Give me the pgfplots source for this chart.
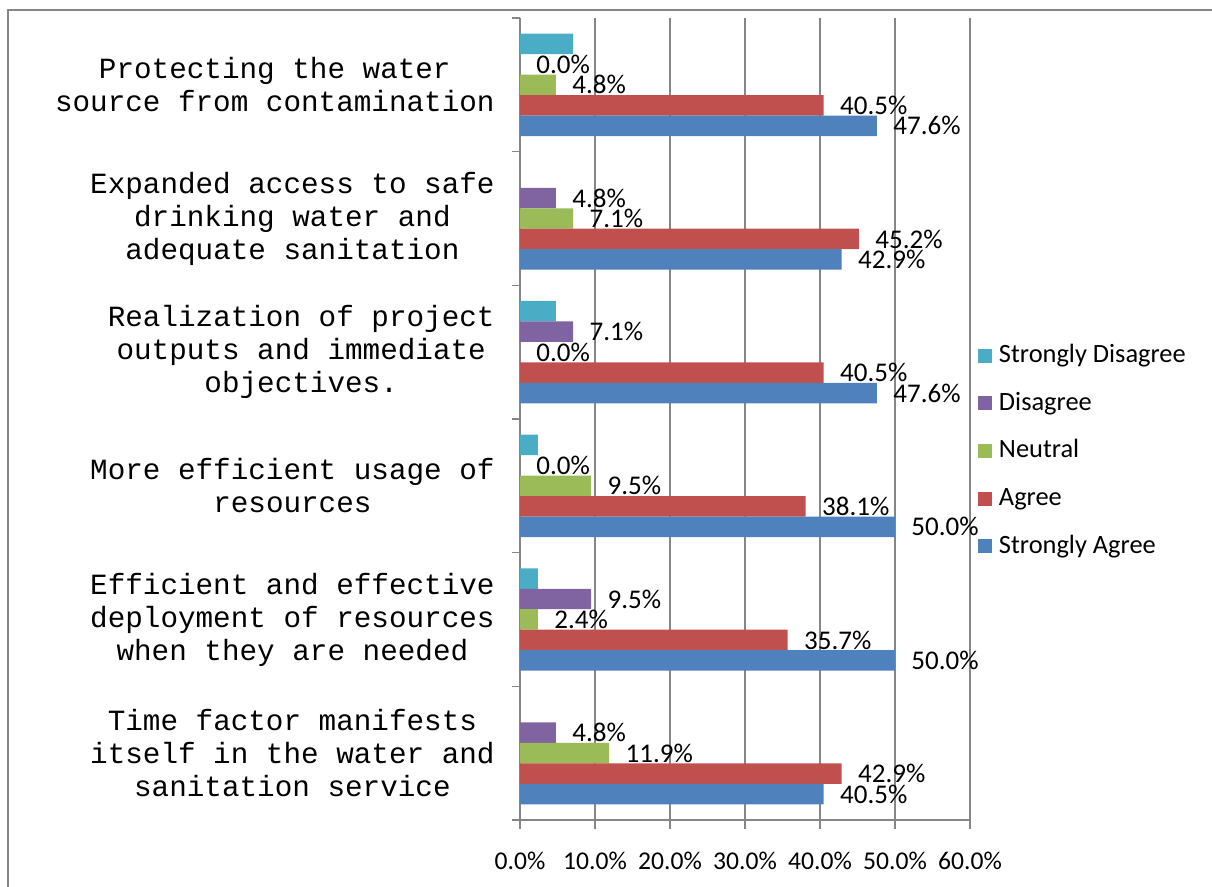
\documentclass[border=0pt]{standalone}
\usepackage{fontspec}
\setmainfont{Carlito}
\newfontfamily\cmono{Liberation Mono}
\usepackage{pgfplots}
\pgfplotsset{compat=1.18}
\definecolor{cSD}{HTML}{4BACC6}
\definecolor{cD}{HTML}{8064A2}
\definecolor{cN}{HTML}{9BBB59}
\definecolor{cA}{HTML}{C0504D}
\definecolor{cSA}{HTML}{4F81BD}
\definecolor{axgray}{RGB}{134,134,134}
\newcommand\lblfont{\fontsize{13.5}{15}\selectfont}
\newcommand\legfont{\fontsize{13.2}{15}\selectfont}
\newcommand\tickfont{\fontsize{12.8}{15}\selectfont}
\newcommand\ylabfont{\cmono\fontsize{14.65}{16.5}\selectfont}
\begin{document}
\begin{tikzpicture}
\draw[axgray, line width=0.75pt] (4pt,0pt) -- (4pt,438.5pt) -- (606pt,438.5pt);
\begin{axis}[
  at={(260pt,33.5pt)}, anchor=south west,
  scale only axis, width=225pt, height=401pt,
  xbar, bar width=0.1533,
  xmin=0, xmax=60, ymin=-0.5, ymax=5.5,
  axis x line*=bottom, axis y line*=left,
  axis line style={axgray, line width=0.75pt},
  xtick={0,10,...,60},
  xticklabel={\pgfmathprintnumber[fixed,fixed zerofill,precision=1]{\tick}\%},
  xmajorgrids, grid style={axgray, line width=0.6pt},
  tick align=outside, major tick length=4.5pt, minor tick length=4pt,
  tick style={axgray, line width=0.75pt},
  ytick={0,...,5},
  every major y tick/.append style={draw=none},
  minor ytick={-0.5,0.5,...,5.5},
  yticklabels={
    {Time factor manifests\\itself in the water and\\sanitation service},
    {Efficient and effective\\deployment of resources\\when they are needed},
    {More efficient usage of\\resources},
    {Realization of project\\outputs and immediate\\objectives.},
    {Expanded access to safe\\drinking water and\\adequate sanitation},
    {Protecting the water\\source from contamination}},
  yticklabel style={font=\ylabfont, align=center, inner sep=0pt, xshift=-8pt},
  xticklabel style={font=\tickfont, inner sep=0pt, yshift=-11.5pt},
  /pgf/number format/assume math mode=true,
  clip=false,
  legend style={at={(1,1)}, anchor=north west, xshift=4pt, yshift=-163.35pt,
    draw=none, fill=none, inner sep=0pt, outer sep=0pt,
    row sep=11.8pt, column sep=3.5pt, font=\legfont,
    nodes={inner sep=0pt, text height=9pt, text depth=3pt},
    cells={anchor=base west}},
  legend image code/.code={\fill[#1] (0pt,0pt) rectangle (7pt,7pt);},
  lbl/.style={nodes near coords={\pgfmathprintnumber[fixed,fixed zerofill,precision=1]{\pgfplotspointmeta}\%},
    point meta=x,
    every node near coord/.append style={font=\lblfont, anchor=west, inner sep=0pt, xshift=8pt, text=black}},
]
\addplot[xbar, fill=cSD, draw=none, bar shift=0.3066] coordinates {(7.1,5) (0,4) (4.8,3) (2.4,2) (2.4,1) (0,0)};
\addlegendentry{Strongly Disagree}
\addplot[xbar, fill=cD, draw=none, bar shift=0.1533, lbl] coordinates {(0,5) (4.8,4) (7.1,3) (0,2) (9.5,1) (4.8,0)};
\addlegendentry{Disagree}
\addplot[xbar, fill=cN, draw=none, bar shift=0, lbl] coordinates {(4.8,5) (7.1,4) (0,3) (9.5,2) (2.4,1) (11.9,0)};
\addlegendentry{Neutral}
\addplot[xbar, fill=cA, draw=none, bar shift=-0.1533, lbl] coordinates {(40.5,5) (45.2,4) (40.5,3) (38.1,2) (35.7,1) (42.9,0)};
\addlegendentry{Agree}
\addplot[xbar, fill=cSA, draw=none, bar shift=-0.3066, lbl] coordinates {(47.6,5) (42.9,4) (47.6,3) (50,2) (50,1) (40.5,0)};
\addlegendentry{Strongly Agree}
\end{axis}
\pgfresetboundingbox
\path[use as bounding box] (0,0) rectangle (606pt,443.5pt);
\end{tikzpicture}
\end{document}
